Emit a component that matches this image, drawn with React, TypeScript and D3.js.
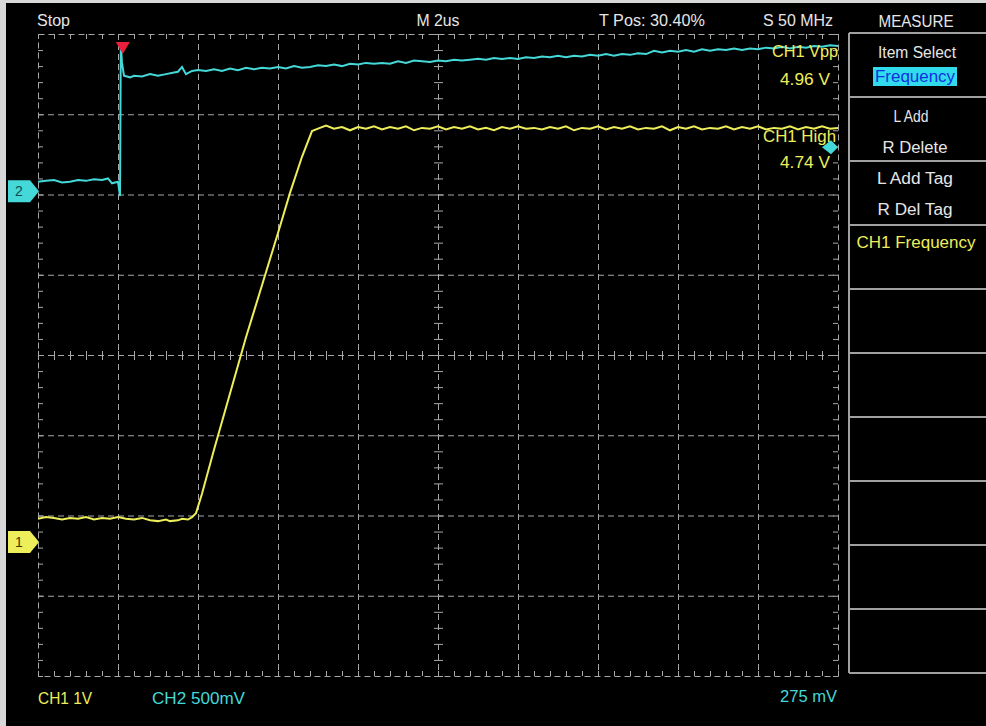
import React from "react";
import * as d3 from "d3";

// time base: 2 us/div, 10 divisions
const timeDomain = [0, 20];
const divDomain = [-4, 4];

// CH1 (yellow) : 1 V/div, ground offset in divisions
const ch1Scale = 1;
const ch1Offset = -2.33;
const ch1Trace: [number, number][] = [
  [0, 0.29], [0.2, 0.31], [0.4, 0.3], [0.6, 0.28], [0.8, 0.3], [1.0, 0.29], [1.2, 0.31],
  [1.4, 0.28], [1.6, 0.3], [1.8, 0.29], [2.0, 0.31], [2.2, 0.29], [2.4, 0.28], [2.6, 0.3],
  [2.8, 0.27], [3.0, 0.26], [3.2, 0.28], [3.3, 0.26], [3.5, 0.27], [3.6, 0.29],
  [3.75, 0.28], [3.85, 0.31], [3.95, 0.36],
  [4.1, 0.6], [4.4, 1.15], [4.8, 1.85], [5.2, 2.55], [5.6, 3.2], [6.0, 3.85],
  [6.3, 4.35], [6.6, 4.8], [6.85, 5.12], [7.0, 5.15], [7.2, 5.19], [7.4, 5.15], [7.6, 5.17],
  [7.8, 5.13], [8.0, 5.17], [8.2, 5.15], [8.4, 5.18], [8.6, 5.14], [8.8, 5.17], [9.0, 5.15],
  [9.2, 5.18], [9.4, 5.13], [9.6, 5.16], [9.8, 5.15], [10.0, 5.18], [10.2, 5.14],
  [10.4, 5.17], [10.6, 5.15], [10.8, 5.18], [11.0, 5.14], [11.2, 5.16], [11.4, 5.13],
  [11.6, 5.17], [11.8, 5.15], [12.0, 5.18], [12.2, 5.15], [12.4, 5.16], [12.6, 5.14],
  [12.8, 5.17], [13.0, 5.15], [13.2, 5.18], [13.4, 5.13], [13.6, 5.16], [13.8, 5.15],
  [14.0, 5.18], [14.2, 5.14], [14.4, 5.17], [14.6, 5.15], [14.8, 5.18], [15.0, 5.14],
  [15.2, 5.16], [15.4, 5.15], [15.6, 5.18], [15.8, 5.13], [16.0, 5.17], [16.2, 5.15],
  [16.4, 5.18], [16.6, 5.14], [16.8, 5.16], [17.0, 5.15], [17.2, 5.18], [17.4, 5.14],
  [17.6, 5.17], [17.8, 5.15], [18.0, 5.18], [18.2, 5.14], [18.4, 5.16], [18.6, 5.15],
  [18.8, 5.18], [19.0, 5.14], [19.2, 5.17], [19.4, 5.15], [19.6, 5.18], [19.8, 5.15],
  [20.0, 5.16],
];

// CH2 (cyan) : 500 mV/div
const ch2Scale = 0.5;
const ch2Offset = 2.04;
const ch2Trace: [number, number][] = [
  [0, 0.06], [0.2, 0.065], [0.4, 0.07], [0.6, 0.055], [0.8, 0.06], [1.0, 0.07], [1.2, 0.065],
  [1.4, 0.075], [1.6, 0.07], [1.75, 0.08], [1.85, 0.05], [2.0, 0.06], [2.05, -0.03],
  [2.07, 0.91], [2.1, 0.8], [2.15, 0.72], [2.3, 0.71], [2.4, 0.72], [2.6, 0.715],
  [2.8, 0.73], [3.0, 0.72], [3.2, 0.73], [3.4, 0.74], [3.5, 0.745], [3.6, 0.775],
  [3.7, 0.73], [3.85, 0.75], [4.0, 0.755], [4.2, 0.75], [4.4, 0.76], [4.6, 0.75],
  [4.8, 0.765], [5.0, 0.755], [5.2, 0.77], [5.4, 0.76], [5.6, 0.77], [5.8, 0.765],
  [6.0, 0.775], [6.2, 0.765], [6.4, 0.78], [6.6, 0.77], [6.8, 0.775], [7.0, 0.785],
  [7.2, 0.78], [7.4, 0.79], [7.6, 0.78], [7.8, 0.795], [8.0, 0.79], [8.2, 0.8],
  [8.4, 0.795], [8.6, 0.8], [8.8, 0.795], [9.0, 0.81], [9.2, 0.8], [9.4, 0.815],
  [9.6, 0.81], [9.8, 0.805], [10.0, 0.815], [10.2, 0.81], [10.4, 0.82], [10.6, 0.815],
  [10.8, 0.82], [11.0, 0.825], [11.2, 0.82], [11.4, 0.83], [11.6, 0.825], [11.8, 0.83],
  [12.0, 0.825], [12.2, 0.835], [12.4, 0.83], [12.6, 0.84], [12.8, 0.835], [13.0, 0.845],
  [13.2, 0.835], [13.4, 0.845], [13.6, 0.84], [13.8, 0.85], [14.0, 0.845], [14.2, 0.855],
  [14.4, 0.845], [14.6, 0.855], [14.8, 0.85], [15.0, 0.86], [15.2, 0.855], [15.4, 0.875],
  [15.6, 0.865], [15.8, 0.875], [16.0, 0.87], [16.2, 0.88], [16.4, 0.87], [16.6, 0.885],
  [16.8, 0.875], [17.0, 0.885], [17.2, 0.88], [17.4, 0.89], [17.6, 0.88], [17.8, 0.89],
  [18.0, 0.885], [18.2, 0.895], [18.4, 0.89], [18.6, 0.9], [18.8, 0.89], [19.0, 0.9],
  [19.2, 0.895], [19.4, 0.905], [19.6, 0.9], [19.8, 0.91], [20.0, 0.905],
];

const triggerTime = 2.12;
const triggerLevel = 0.275; // on CH2

const headerLabels = ["Stop", "M 2us", "T Pos: 30.40%", "S 50 MHz"];
const menuTitle = "MEASURE";
const menuItems = ["Item Select", "Frequency", "L Add", "R Delete", "L Add Tag", "R Del Tag", "CH1 Frequency"];
const measLabels = ["CH1 Vpp", "4.96 V", "CH1 High", "4.74 V"];
const footerLabels = ["CH1  1V", "CH2  500mV", "275 mV"];

const W = 986;
const H = 726;
const FONT = "'Liberation Sans', Arial, sans-serif";
const WHITE = "#e6e6e6";
const YELLOW = "#eeee5a";
const CYAN = "#44d8d8";
const GRID = "#a8a8a8";

const T = ({ x, y, w, anchor = "start", fill = WHITE, size = 16, children }: any) => (
  <text x={x} y={y} textAnchor={anchor} fill={fill} fontSize={size} fontFamily={FONT}
    textLength={w} lengthAdjust="spacingAndGlyphs">{children}</text>
);

export default function App() {
  const x = d3.scaleLinear().domain(timeDomain).range([38, 838]);
  const y = d3.scaleLinear().domain(divDomain).range([676, 34]);
  const line1 = d3.line<[number, number]>().x(d => x(d[0])).y(d => y(ch1Offset + d[1] / ch1Scale));
  const line2 = d3.line<[number, number]>().x(d => x(d[0])).y(d => y(ch2Offset + d[1] / ch2Scale));

  const [x0, x1] = x.range();
  const [y1, y0] = y.range();
  const xMajor = d3.range(1, 10).map(i => x(i * 2));
  const yMajor = d3.range(-3, 4).map(i => y(i));
  const xMinor = d3.range(0, 50.001, 1).map(i => x0 + (i * (x1 - x0)) / 50);
  const yMinor = d3.range(0, 40.001, 1).map(i => y0 + (i * (y1 - y0)) / 40);
  const cx = x(10);
  const cy = y(0);

  const ch1Y = y(ch1Offset);
  const ch2Y = y(ch2Offset);
  const trigX = x(triggerTime);
  const trigY = y(ch2Offset + triggerLevel / ch2Scale);

  const marker = (yy: number) =>
    `M8,${yy - 11} L30,${yy - 11} L39,${yy} L30,${yy + 11} L8,${yy + 11} Z`;

  const menuSep = d3.range(0, 11).map(i => 33 + i * 64);

  return (
    <svg width={W} height={H} style={{ position: "absolute", left: 0, top: 0, background: "#000" }}>
      <rect x={0} y={0} width={W} height={H} fill="#000" />
      <rect x={0} y={0} width={6} height={H} fill="#d8d8d8" />
      <rect x={0} y={0} width={W} height={3} fill="#d8d8d8" />

      {/* graticule */}
      <g stroke={GRID} strokeWidth={1} fill="none">
        {xMajor.map((v, i) => (
          <line key={"vx" + i} x1={v + 0.5} x2={v + 0.5} y1={y0} y2={y1} strokeDasharray="6,4" />
        ))}
        {yMajor.map((v, i) => (
          <line key={"hy" + i} x1={x0} x2={x1} y1={v + 0.5} y2={v + 0.5} strokeDasharray="6,4" />
        ))}
        <rect x={x0 + 0.5} y={y0 + 0.5} width={x1 - x0} height={y1 - y0} strokeDasharray="6,4" />
        {xMinor.map((v, i) => (
          <g key={"xm" + i}>
            <line x1={v + 0.5} x2={v + 0.5} y1={y0} y2={y0 + 5} />
            <line x1={v + 0.5} x2={v + 0.5} y1={y1} y2={y1 - 5} />
            <line x1={v + 0.5} x2={v + 0.5} y1={cy - 4} y2={cy + 5} />
          </g>
        ))}
        {yMinor.map((v, i) => (
          <g key={"ym" + i}>
            <line x1={x0} x2={x0 + 5} y1={v + 0.5} y2={v + 0.5} />
            <line x1={x1} x2={x1 - 5} y1={v + 0.5} y2={v + 0.5} />
            <line x1={cx - 4} x2={cx + 5} y1={v + 0.5} y2={v + 0.5} />
          </g>
        ))}
      </g>

      {/* traces */}
      <path d={line2(ch2Trace) || ""} fill="none" stroke={CYAN} strokeWidth={2} />
      <path d={line1(ch1Trace) || ""} fill="none" stroke={YELLOW} strokeWidth={2} />

      {/* channel markers */}
      <path d={marker(ch2Y)} fill={CYAN} />
      <text x={19} y={ch2Y + 5} textAnchor="middle" fontSize={14} fontFamily={FONT} fill="#0c4c50">2</text>
      <path d={marker(ch1Y)} fill={YELLOW} />
      <text x={19} y={ch1Y + 5} textAnchor="middle" fontSize={14} fontFamily={FONT} fill="#3a3a00">1</text>

      {/* trigger markers */}
      <path d={`M${trigX - 7},42 L${trigX + 7},42 L${trigX},54 Z`} fill="#e8203c" />
      <path d={`M${x1 - 16},${trigY} L${x1 - 7},${trigY - 7} L${x1},${trigY} L${x1 - 7},${trigY + 7} Z`} fill={CYAN} />

      {/* header */}
      <T x={37} y={26} w={33}>{headerLabels[0]}</T>
      <T x={438} y={26} w={43} anchor="middle">{headerLabels[1]}</T>
      <T x={652} y={26} w={106} anchor="middle">{headerLabels[2]}</T>
      <T x={798} y={26} w={70} anchor="middle">{headerLabels[3]}</T>

      {/* measurement readouts */}
      <T x={838} y={57} w={66} anchor="end" fill={YELLOW}>{measLabels[0]}</T>
      <T x={830} y={85} w={50} anchor="end" fill={YELLOW}>{measLabels[1]}</T>
      <T x={836} y={142} w={73} anchor="end" fill={YELLOW}>{measLabels[2]}</T>
      <T x={830} y={168} w={50} anchor="end" fill={YELLOW}>{measLabels[3]}</T>

      {/* menu */}
      <T x={916} y={27} w={75} anchor="middle">{menuTitle}</T>
      <g stroke="#a0a0a0" strokeWidth={2}>
        <line x1={849} x2={849} y1={33} y2={673} />
        {menuSep.map((v, i) => (
          <line key={"ms" + i} x1={849} x2={W} y1={v} y2={v} />
        ))}
      </g>
      <T x={917} y={58} w={78} anchor="middle">{menuItems[0]}</T>
      <rect x={873} y={67} width={84} height={19} fill="#30dcec" />
      <T x={915} y={82} w={80} anchor="middle" fill="#1030e0">{menuItems[1]}</T>
      <T x={911} y={122} w={35} anchor="middle">{menuItems[2]}</T>
      <T x={915} y={153} w={65} anchor="middle">{menuItems[3]}</T>
      <T x={915} y={184} w={76} anchor="middle">{menuItems[4]}</T>
      <T x={915} y={215} w={75} anchor="middle">{menuItems[5]}</T>
      <T x={916} y={248} w={119} anchor="middle" fill={YELLOW}>{menuItems[6]}</T>

      {/* footer */}
      <T x={38} y={704} w={54} fill={YELLOW}>{footerLabels[0]}</T>
      <T x={152} y={704} w={93} fill={CYAN}>{footerLabels[1]}</T>
      <T x={837} y={702} w={57} anchor="end" fill={CYAN}>{footerLabels[2]}</T>
    </svg>
  );
}
